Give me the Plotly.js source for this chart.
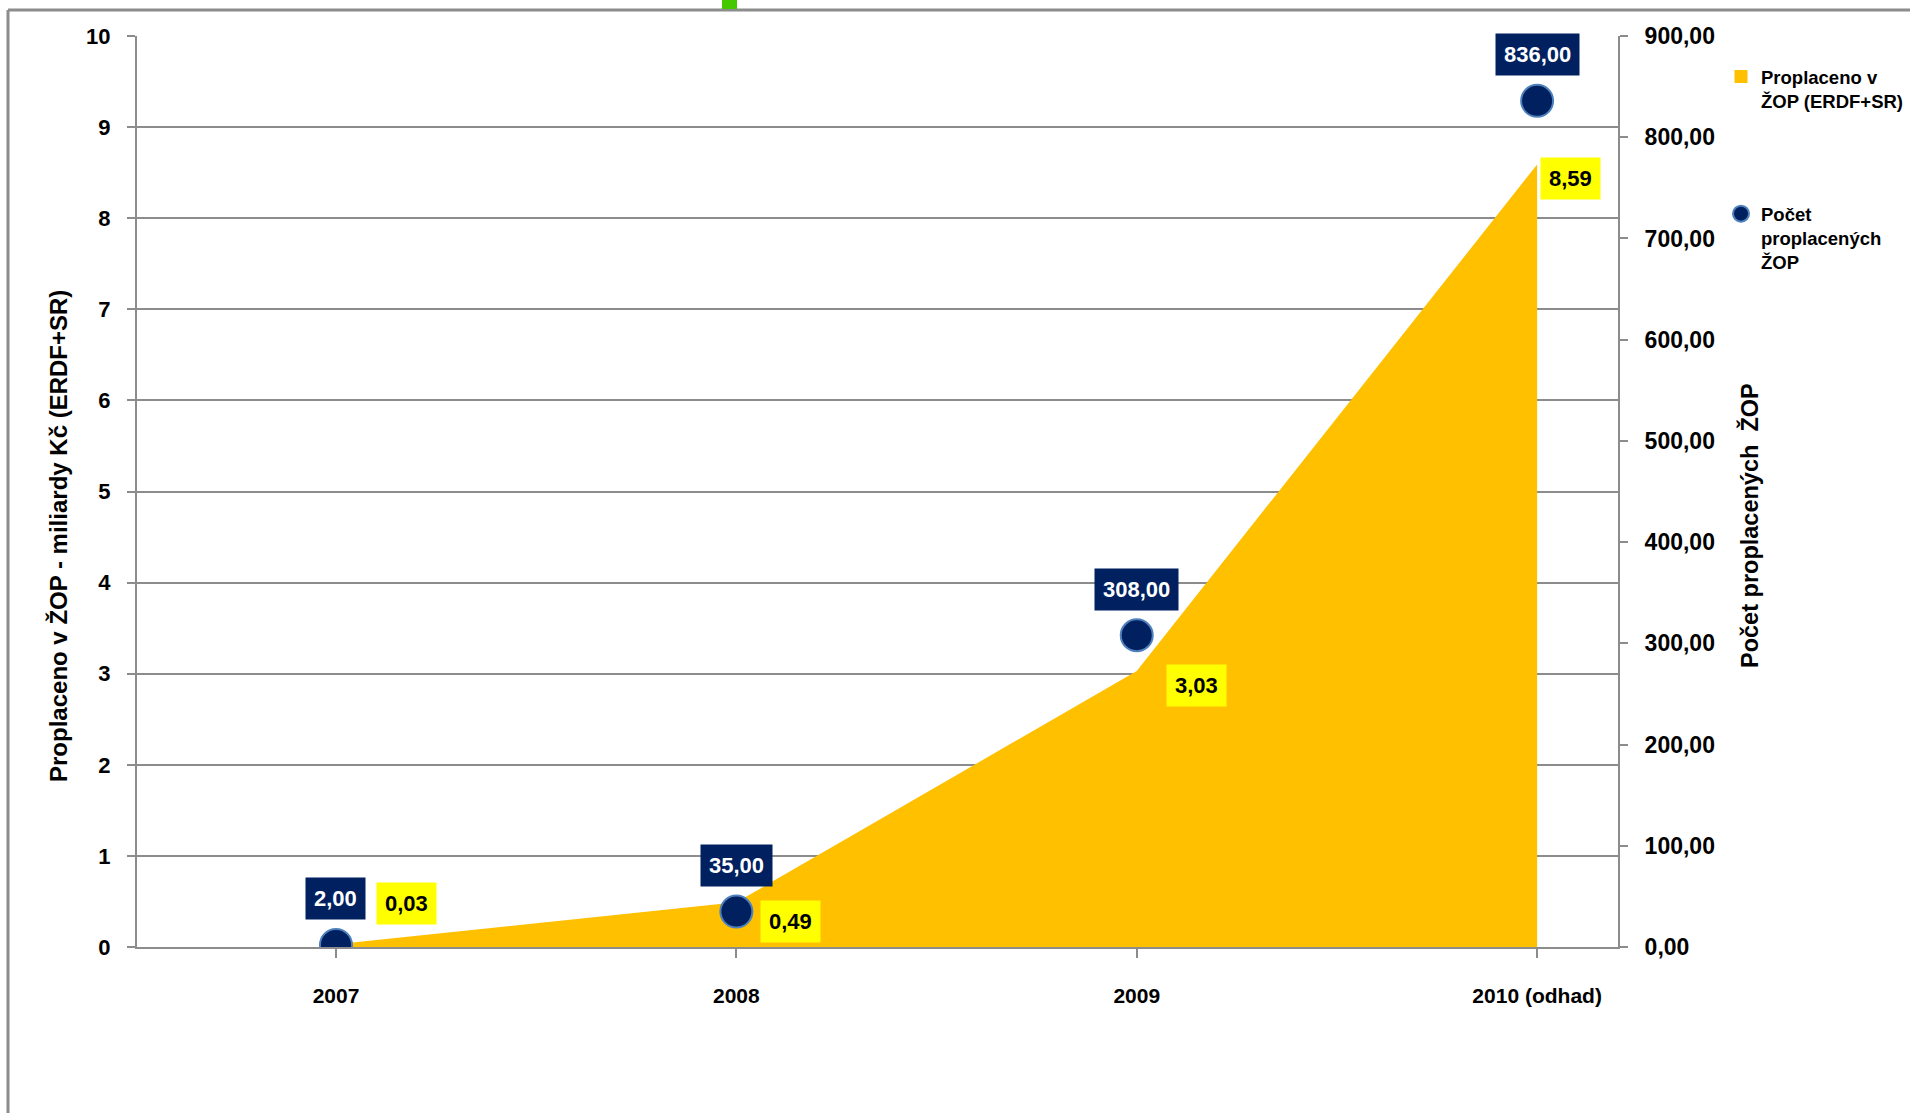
<!DOCTYPE html>
<html>
<head>
<meta charset="utf-8">
<script src="https://cdn.plot.ly/plotly-3.0.1.min.js"></script>
<style>html,body{margin:0;padding:0;background:#fff;overflow:hidden;}#chart{width:1910px;height:1113px;}</style>
</head>
<body>
<div id="chart"></div>
<script>
// ---- data ----
const categories = ['2007', '2008', '2009', '2010 (odhad)'];
const paidBn = [0.03, 0.49, 3.03, 8.59];          // Proplaceno v ŽOP (ERDF+SR), mld. Kč
const paidCount = [2, 35, 308, 836];               // Počet proplacených ŽOP
const seriesNames = ['Proplaceno v<br>ŽOP (ERDF+SR)', 'Počet<br>proplacených<br>ŽOP'];
const leftTitle = 'Proplaceno v ŽOP - miliardy Kč (ERDF+SR)';
const rightTitle = 'Počet proplacených  ŽOP';

// ---- styling ----
const FONT = '"Liberation Sans", Arial, sans-serif';
const GOLD = '#FFC000', NAVY = '#002060', YELLOW = '#FFFF00', GRID = '#8c8c8c';
const W = 1910, H = 1113;
const M = {l: 137, r: 292, t: 36, b: 166, autoexpand: false};
const pw = W - M.l - M.r, ph = H - M.t - M.b;
const px2x = p => (p - M.l) / pw;
const px2y = p => (H - M.b - p) / ph;
// label offsets (pixels) for the yellow value boxes, relative to each point
const yellowShift = [[71, 41], [54, -19], [60, -15], [33, -14]];

const fmt = v => v.toFixed(2).replace('.', ',');
const idx = categories.map((c, i) => i);

const traces = [
  {
    type: 'scatter', mode: 'lines', x: idx, y: paidBn,
    fill: 'tozeroy', fillcolor: GOLD, line: {width: 0, color: GOLD},
    name: seriesNames[0], showlegend: false, legendgroup: 'a'
  },
  {
    type: 'scatter', mode: 'markers', x: [null], y: [null],
    marker: {symbol: 'square', size: 13, color: GOLD},
    name: seriesNames[0], legendgroup: 'a', showlegend: true
  },
  {
    type: 'scatter', mode: 'markers', x: idx, y: paidCount, yaxis: 'y2',
    marker: {symbol: 'circle', size: 32, color: NAVY, line: {color: '#4F81BD', width: 2}},
    name: seriesNames[1], legendgroup: 'b'
  }
];

const annotations = [];
idx.forEach(i => {
  annotations.push({
    x: i, y: paidBn[i], xref: 'x', yref: 'y', showarrow: false,
    text: fmt(paidBn[i]), xshift: yellowShift[i][0], yshift: yellowShift[i][1],
    bgcolor: YELLOW, borderpad: 8,
    font: {family: FONT, size: 22, color: '#000', weight: 700}
  });
  annotations.push({
    x: i, y: paidCount[i], xref: 'x', yref: 'y2', showarrow: false,
    text: fmt(paidCount[i]), xshift: 0, yshift: 46,
    bgcolor: NAVY, borderpad: 8,
    font: {family: FONT, size: 22, color: '#fff', weight: 700}
  });
});
// axis titles
annotations.push({
  xref: 'paper', yref: 'paper', x: px2x(58), y: px2y(536), xanchor: 'center', yanchor: 'middle',
  showarrow: false, textangle: -90, text: leftTitle,
  font: {family: FONT, size: 24, color: '#000', weight: 700}
});
annotations.push({
  xref: 'paper', yref: 'paper', x: px2x(1749), y: px2y(526), xanchor: 'center', yanchor: 'middle',
  showarrow: false, textangle: -90, text: rightTitle,
  font: {family: FONT, size: 23.5, color: '#000', weight: 700}
});

const layout = {
  width: W, height: H, margin: M, autosize: false,
  paper_bgcolor: '#fff', plot_bgcolor: '#fff',
  separators: ', ',
  font: {family: FONT, size: 22, color: '#000', weight: 700},
  showlegend: true,
  legend: {
    x: px2x(1721), y: px2y(58), xanchor: 'left', yanchor: 'top',
    traceorder: 'grouped', tracegroupgap: 86, valign: 'top',
    font: {family: FONT, size: 18.5, color: '#000', weight: 700},
    itemwidth: 30, bgcolor: 'rgba(0,0,0,0)'
  },
  xaxis: {
    range: [-0.497, 3.202], tickmode: 'array', tickvals: idx, ticktext: categories,
    showgrid: false, zeroline: false,
    showline: true, linecolor: GRID, linewidth: 2,
    ticks: 'outside', ticklen: 9, tickcolor: GRID, tickwidth: 2,
    ticklabelstandoff: 20,
    tickfont: {family: FONT, size: 21, color: '#000', weight: 700}
  },
  yaxis: {
    range: [0, 10], dtick: 1, tickformat: 'd',
    showgrid: true, gridcolor: GRID, gridwidth: 2, zeroline: false,
    showline: true, linecolor: GRID, linewidth: 2,
    ticks: 'outside', ticklen: 8, tickcolor: GRID, tickwidth: 2,
    ticklabelstandoff: 12,
    tickfont: {family: FONT, size: 22, color: '#000', weight: 700}
  },
  yaxis2: {
    overlaying: 'y', side: 'right', range: [0, 900], dtick: 100, tickformat: '.2f',
    showgrid: false, zeroline: false,
    showline: true, linecolor: GRID, linewidth: 2,
    ticks: 'outside', ticklen: 8, tickcolor: GRID, tickwidth: 2,
    ticklabelstandoff: 12,
    tickfont: {family: FONT, size: 23, color: '#000', weight: 700}
  },
  annotations: annotations,
  shapes: [
    {type: 'line', xref: 'paper', yref: 'paper', x0: px2x(8), x1: px2x(W), y0: px2y(10), y1: px2y(10),
     line: {color: '#8c8c8c', width: 3}, layer: 'above'},
    {type: 'line', xref: 'paper', yref: 'paper', x0: px2x(8), x1: px2x(8), y0: px2y(10), y1: px2y(H),
     line: {color: '#8c8c8c', width: 3}, layer: 'above'},
    {type: 'rect', xref: 'paper', yref: 'paper', x0: px2x(722), x1: px2x(737), y0: px2y(0), y1: px2y(9),
     fillcolor: '#44C800', line: {width: 0}, layer: 'above'}
  ]
};

Plotly.newPlot('chart', traces, layout, {displayModeBar: false, staticPlot: true});
</script>
</body>
</html>
